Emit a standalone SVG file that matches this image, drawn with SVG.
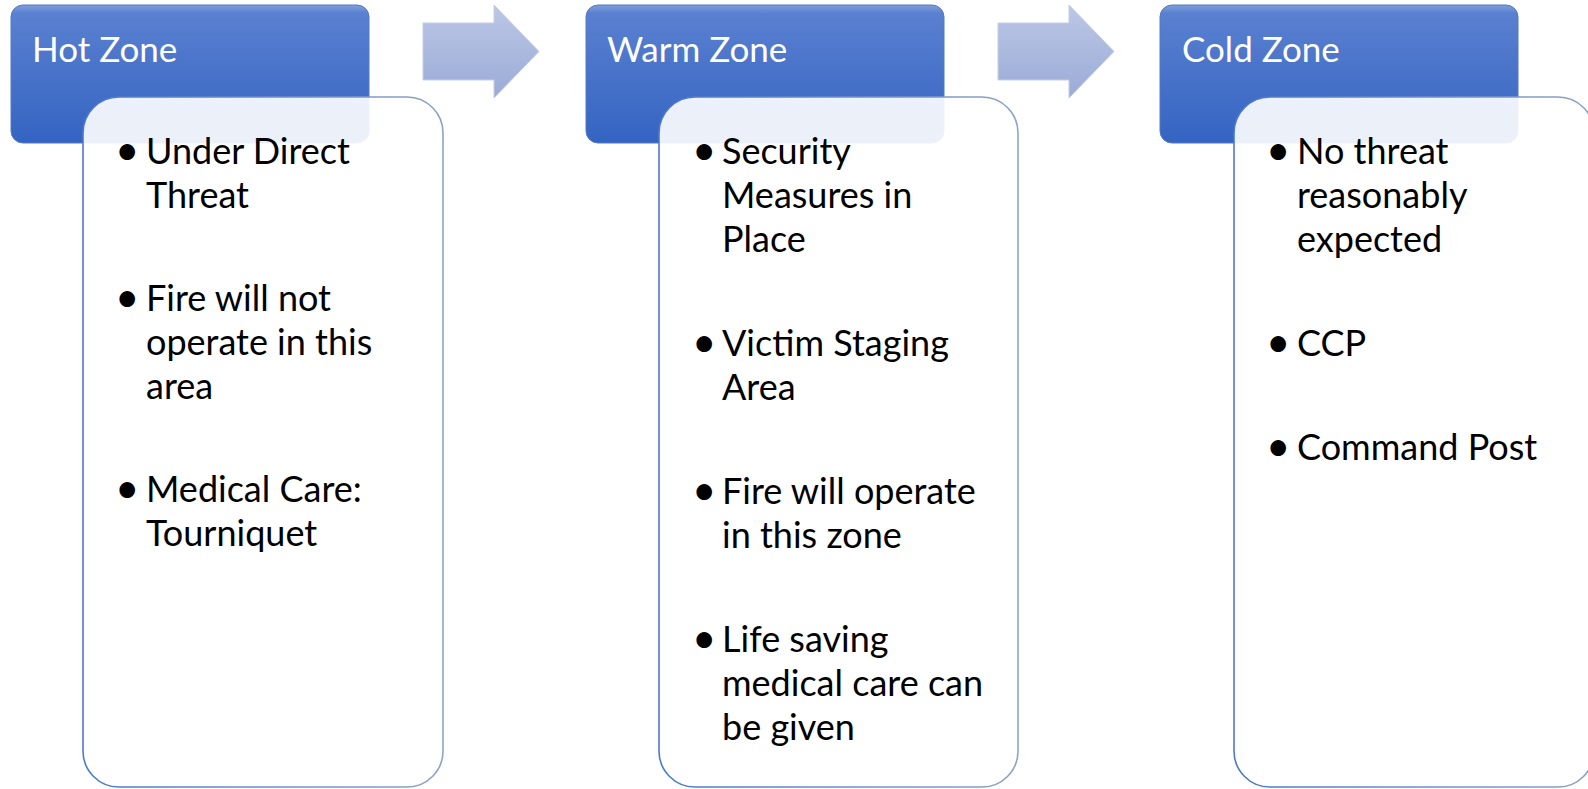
<svg xmlns="http://www.w3.org/2000/svg" width="1588" height="789" viewBox="0 0 1588 789">
<defs>
<linearGradient id="hdr" x1="0" y1="0" x2="0" y2="1">
<stop offset="0" stop-color="#7f9fdc"/>
<stop offset="0.06" stop-color="#5a80d0"/>
<stop offset="1" stop-color="#3464c2"/>
</linearGradient>
<linearGradient id="arr" x1="0" y1="0" x2="0" y2="1">
<stop offset="0" stop-color="#bcc7e6"/>
<stop offset="1" stop-color="#9aabd6"/>
</linearGradient>
<linearGradient id="bstroke" x1="0" y1="0" x2="1" y2="0">
<stop offset="0" stop-color="#4a78cc"/>
<stop offset="1" stop-color="#8ea2c6"/>
</linearGradient>
</defs>
<style>
.hdr{fill:url(#hdr);stroke:#5478c4;stroke-width:1}
.body{fill:#ffffff;fill-opacity:0.9;stroke:url(#bstroke);stroke-width:1.6}
.arrow{fill:url(#arr);stroke:#c4cde8;stroke-width:1}
.ht{font-family:Lato,"Open Sans",sans-serif;font-size:35px;fill:#ffffff}
.bt{font-family:Lato,"Open Sans",sans-serif;font-size:36px;fill:#000000}
.bu{font-size:42px}
</style>
<rect width="1588" height="789" fill="#ffffff"/>
<g id="connectors">
<polygon class="arrow" points="423,23 494,23 494,5 539,51.5 494,98 494,80 423,80"/>
<polygon class="arrow" points="998,23 1069,23 1069,5 1114,51.5 1069,98 1069,80 998,80"/>
</g>
<g id="hot-header">
<rect class="hdr" x="11" y="5" width="358" height="138" rx="12"/>
<text class="ht" x="32" y="62">Hot Zone</text>
</g>
<g id="hot-body">
<rect class="body" x="83" y="97" width="360" height="690" rx="36"/>
<g class="bt">
<text class="bu" x="115" y="165">•</text><text x="146" y="164">Under Direct</text>
<text x="146" y="208">Threat</text>
<text class="bu" x="115" y="312">•</text><text x="146" y="311">Fire will not</text>
<text x="146" y="355">operate in this</text>
<text x="146" y="399">area</text>
<text class="bu" x="115" y="503">•</text><text x="146" y="502">Medical Care:</text>
<text x="146" y="546">Tourniquet</text>
</g>
</g>
<g id="warm-header">
<rect class="hdr" x="586" y="5" width="358" height="138" rx="12"/>
<text class="ht" x="607" y="62">Warm Zone</text>
</g>
<g id="warm-body">
<rect class="body" x="659" y="97" width="359" height="690" rx="36"/>
<g class="bt">
<text class="bu" x="692" y="165">•</text><text x="722" y="164">Security</text>
<text x="722" y="208">Measures in</text>
<text x="722" y="252">Place</text>
<text class="bu" x="692" y="357">•</text><text x="722" y="356">Victim Staging</text>
<text x="722" y="400">Area</text>
<text class="bu" x="692" y="505">•</text><text x="722" y="504">Fire will operate</text>
<text x="722" y="548">in this zone</text>
<text class="bu" x="692" y="653">•</text><text x="722" y="652">Life saving</text>
<text x="722" y="696">medical care can</text>
<text x="722" y="740">be given</text>
</g>
</g>
<g id="cold-header">
<rect class="hdr" x="1160" y="5" width="358" height="138" rx="12"/>
<text class="ht" x="1182" y="62">Cold Zone</text>
</g>
<g id="cold-body">
<rect class="body" x="1234" y="97" width="360" height="690" rx="36"/>
<g class="bt">
<text class="bu" x="1266" y="165">•</text><text x="1297" y="164">No threat</text>
<text x="1297" y="208">reasonably</text>
<text x="1297" y="252">expected</text>
<text class="bu" x="1266" y="357">•</text><text x="1297" y="356">CCP</text>
<text class="bu" x="1266" y="461">•</text><text x="1297" y="460">Command Post</text>
</g>
</g>
</svg>
